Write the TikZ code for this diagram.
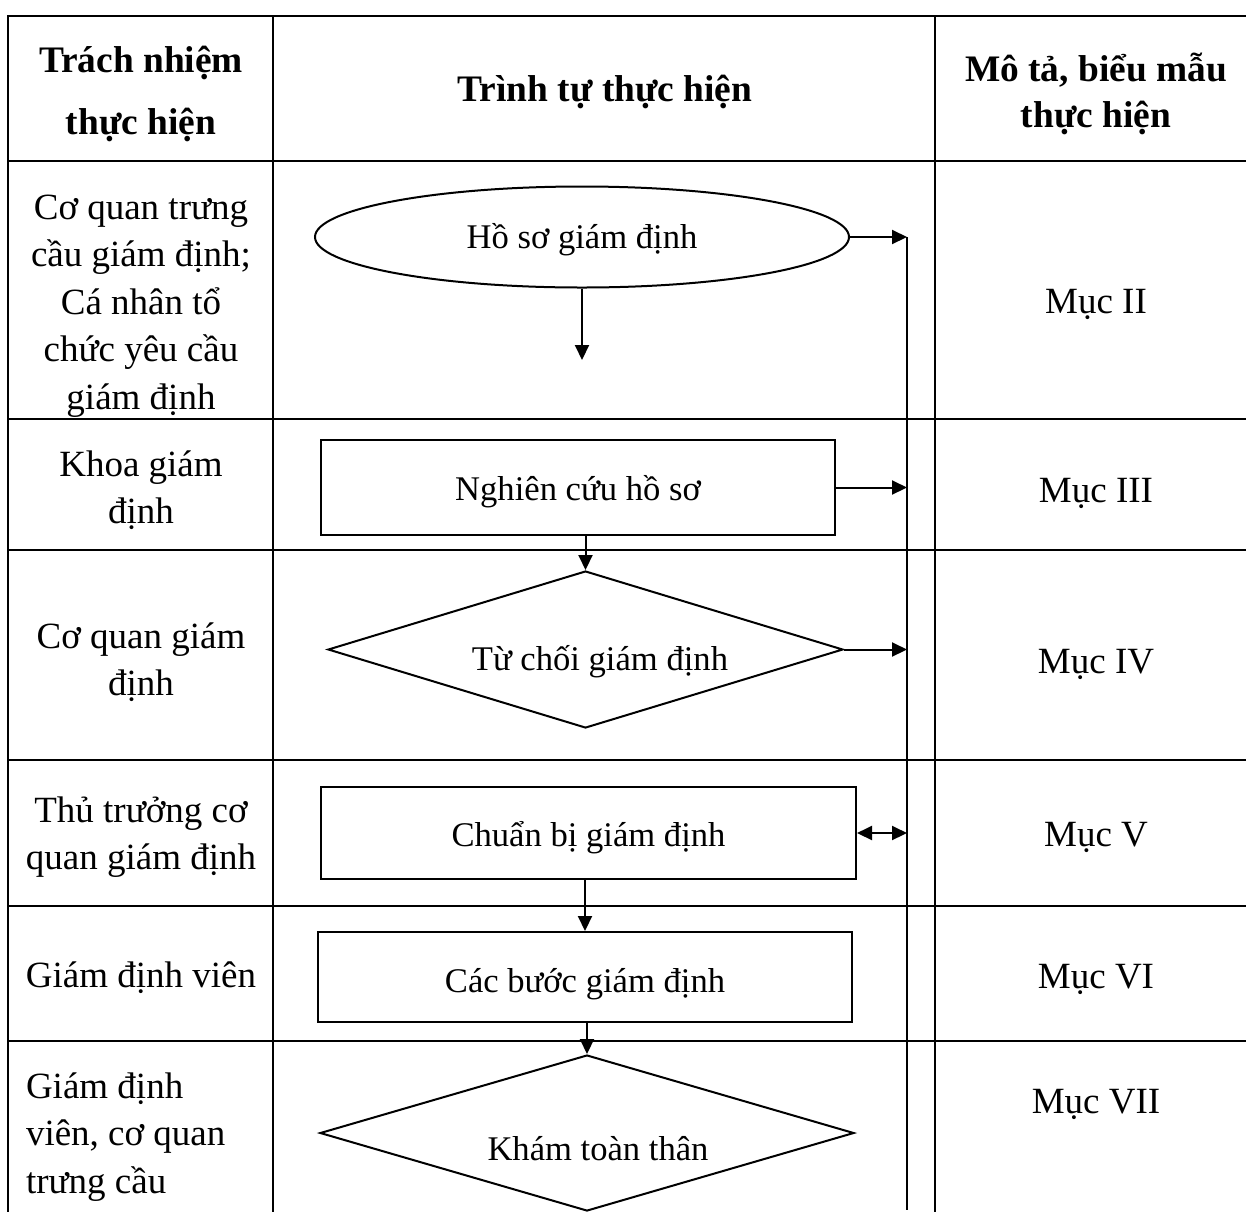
\documentclass[tikz,border=0pt]{standalone}
\usepackage{fontspec}
\setmainfont{Liberation Serif}
\usetikzlibrary{arrows.meta,shapes.geometric}

\begin{document}
\begin{tikzpicture}[
  x=0.5pt,y=-0.5pt,
  line width=1pt,
  grid/.style={line width=1pt,line cap=rect},
  terminal/.style={ellipse,draw,inner sep=0pt,minimum width=267pt,
                   minimum height=50.5pt,text height=15pt,text depth=4pt,
                   font=\fontsize{17.3}{21}\selectfont},
  process/.style={rectangle,draw,inner sep=0pt,text height=17pt,text depth=4pt,
                  font=\fontsize{17.3}{21}\selectfont},
  decision/.style={diamond,draw,aspect=3.3,inner sep=0pt,text depth=0pt,
                   font=\fontsize{17.3}{21}\selectfont},
  celltext/.style={align=center,inner sep=0pt,font=\fontsize{18.5}{23.7}\selectfont},
  headtext/.style={align=center,inner sep=0pt,font=\bfseries\fontsize{18.7}{23}\selectfont},
  flow/.style={-{Triangle[length=7.5pt,width=7pt]}}
]
  \useasboundingbox (0,0) rectangle (1246,1211);

  % table
  \foreach \y in {16,161,419,550,760,906,1041}
    \draw[grid] (8,\y) -- (1246,\y);
  \foreach \x in {8,273,935}
    \draw[grid] (\x,16) -- (\x,1211);

  % header
  \node[headtext,font=\bfseries\fontsize{18.7}{31}\selectfont] (h1) at (141,94)
    {Trách nhiệm\\thực hiện};
  \node[headtext] (h2) at (605,92)  {Trình tự thực hiện};
  \node[headtext] (h3) at (1096,94) {Mô tả, biểu mẫu\\thực hiện};

  % who
  \node[celltext] (r1) at (141,306)   {Cơ quan trưng\\cầu giám định;\\Cá nhân tổ\\chức yêu cầu\\giám định};
  \node[celltext] (r2) at (141,490)   {Khoa giám\\định};
  \node[celltext] (r3) at (141,662)   {Cơ quan giám\\định};
  \node[celltext] (r4) at (141,837)   {Thủ trưởng cơ\\quan giám định};
  \node[celltext] (r5) at (141,978)   {Giám định viên};
  \node[celltext,align=left,anchor=west] (r6) at (25,1137)
    {Giám định\\viên, cơ quan\\trưng cầu};

  % where described
  \node[celltext] (m1) at (1096,304)  {Mục II};
  \node[celltext] (m2) at (1096,493)  {Mục III};
  \node[celltext] (m3) at (1096,664)  {Mục IV};
  \node[celltext] (m4) at (1096,837)  {Mục V};
  \node[celltext] (m5) at (1096,979)  {Mục VI};
  \node[celltext] (m6) at (1096,1104) {Mục VII};

  % flow
  \node[terminal] (hoso) at (582,237) {Hồ sơ giám định};
  \node[process,minimum width=257pt,minimum height=47.5pt] (nghiencuu)
    at (578,487.5) {Nghiên cứu hồ sơ};
  \node[decision,text height=20.5pt,minimum width=257.5pt,minimum height=78.5pt]
    (tuchoi) at (585.5,649.5) {\hspace*{14.5pt}Từ chối giám định};
  \node[process,minimum width=267.5pt,minimum height=46pt] (chuanbi)
    at (588.5,833) {Chuẩn bị giám định};
  \node[process,text height=19pt,minimum width=267pt,minimum height=45pt] (cacbuoc)
    at (585,977) {Các bước giám định};
  \node[decision,text height=27pt,minimum width=267pt,minimum height=78pt]
    (khamtt) at (587,1133) {\hspace*{11pt}Khám toàn thân};

  \coordinate (gap) at (582,360);
  \coordinate (spinebot) at (907,1210);
  \draw[line width=0.8pt] (hoso.east -| spinebot) -- (spinebot);

  \draw[flow] (hoso.south) -- (gap);
  \foreach \a/\b in {nghiencuu/tuchoi,chuanbi/cacbuoc,cacbuoc/khamtt}{
    \draw[flow] (\a.south -| \b.north) -- (\b.north);
  }
  \foreach \a in {hoso,nghiencuu,tuchoi}{
    \draw[flow] (\a.east) -- (\a.east -| spinebot);
  }
  \draw[{Triangle[length=7.5pt,width=7pt]}-{Triangle[length=7.5pt,width=7pt]}]
    (chuanbi.east) -- (chuanbi.east -| spinebot);
\end{tikzpicture}
\end{document}
